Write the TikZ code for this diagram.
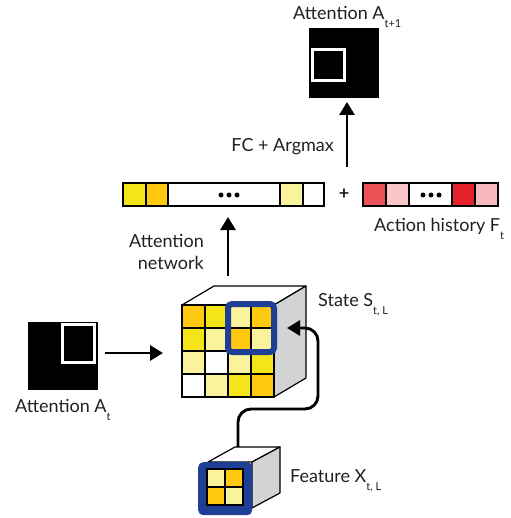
\documentclass[tikz,border=0pt]{standalone}
\usepackage{fontspec}
\setmainfont{Lato}
\usetikzlibrary{arrows.meta}
\definecolor{cy}{HTML}{F4E51B}
\definecolor{co}{HTML}{FEC90F}
\definecolor{cl}{HTML}{FAF39E}
\definecolor{cb}{HTML}{1F3F97}
\definecolor{cg}{HTML}{D1D3D4}
\definecolor{ra}{HTML}{EC5157}
\definecolor{rb}{HTML}{F9C6CA}
\definecolor{rc}{HTML}{E4202A}
\definecolor{rd}{HTML}{F8B9BD}
\definecolor{tx}{HTML}{231F20}
\newcommand\sbs[1]{\raisebox{-8pt}{\fontsize{11}{11}\selectfont #1}}
\tikzset{
  arr/.style={line width=2.9pt, -{Triangle[length=13pt,width=15pt]}},
  cellbox/.style={draw=black, line width=1.2pt},
  lbl/.style={text=tx, font=\fontsize{18}{21}\selectfont, inner sep=0pt},
  edge/.style={draw=black, line width=1.2pt, line join=round},
  dot/.style={fill=black, circle, inner sep=0pt, minimum size=5pt}
}
\begin{document}
\begin{tikzpicture}[x=1pt,y=-1pt]
\useasboundingbox (0,0) rectangle (510,518);

% ---------- top attention
\node[fill=black, minimum width=70pt, minimum height=70pt, inner sep=0pt, anchor=north west] (attT) at (309,28) {};
\draw[white, line width=3pt] (312.5,49.5) rectangle (344.5,80.5);
\node[lbl, anchor=base west] (attTl) at (293,20) {Attention A\sbs{t+1}};

% ---------- FC arrow
\coordinate (fcS) at (347,167);
\coordinate (fcE) at (347,102);
\draw[arr] (fcS) -- (fcE);
\node[lbl, anchor=base east] (fcl) at (334,152) {FC + Argmax};

% ---------- feature bar
\node[inner sep=0pt, minimum width=201pt, minimum height=23pt, anchor=north west] (bar) at (123,183) {};
\draw[cellbox, fill=cy] (123,183) rectangle (146,206);
\draw[cellbox, fill=co] (146,183) rectangle (168,206);
\draw[cellbox, fill=white] (168,183) rectangle (280,206);
\draw[cellbox, fill=cl] (280,183) rectangle (303,206);
\draw[cellbox, fill=white] (303,183) rectangle (324,206);
\node[dot] (bd1) at (221,195) {};
\node[dot] (bd2) at (229,195) {};
\node[dot] (bd3) at (237,195) {};

\node[text=tx, font=\fontsize{18}{20}\selectfont\bfseries, inner sep=0pt] (plus) at (344,194) {+};

% ---------- action history
\node[inner sep=0pt, minimum width=135pt, minimum height=23pt, anchor=north west] (hist) at (363,183) {};
\draw[cellbox, fill=ra] (363,183) rectangle (386,206);
\draw[cellbox, fill=rb] (386,183) rectangle (409,206);
\draw[cellbox, fill=white] (409,183) rectangle (452,206);
\draw[cellbox, fill=rc] (452,183) rectangle (475,206);
\draw[cellbox, fill=rd] (475,183) rectangle (498,206);
\node[dot] (hd1) at (423,195) {};
\node[dot] (hd2) at (431,195) {};
\node[dot] (hd3) at (439,195) {};
\node[lbl, anchor=base west] (histl) at (374,231) {Action history F\sbs{t}};

% ---------- attention network arrow
\coordinate (anS) at (228,276);
\coordinate (anE) at (228,217);
\draw[arr] (anS) -- (anE);
\node[lbl, anchor=base east] (anl1) at (204,247) {Attention};
\node[lbl, anchor=base east] (anl2) at (204,269) {network};

% ---------- state cube
\draw[edge, fill=white] (182,305) -- (214,286) -- (306,286) -- (274,305) -- cycle;
\draw[edge, fill=cg] (274,305) -- (306,286) -- (306,378) -- (274,397) -- cycle;
% row 1
\draw[cellbox, fill=co] (182,305) rectangle (205,328);
\draw[cellbox, fill=cy] (205,305) rectangle (228,328);
\draw[cellbox, fill=cl] (228,305) rectangle (251,328);
\draw[cellbox, fill=co] (251,305) rectangle (274,328);
% row 2
\draw[cellbox, fill=cy] (182,328) rectangle (205,351);
\draw[cellbox, fill=cl] (205,328) rectangle (228,351);
\draw[cellbox, fill=co] (228,328) rectangle (251,351);
\draw[cellbox, fill=cl] (251,328) rectangle (274,351);
% row 3
\draw[cellbox, fill=cl] (182,351) rectangle (205,374);
\draw[cellbox, fill=white] (205,351) rectangle (228,374);
\draw[cellbox, fill=cl] (228,351) rectangle (251,374);
\draw[cellbox, fill=cy] (251,351) rectangle (274,374);
% row 4
\draw[cellbox, fill=white] (182,374) rectangle (205,397);
\draw[cellbox, fill=cl] (205,374) rectangle (228,397);
\draw[cellbox, fill=cy] (228,374) rectangle (251,397);
\draw[cellbox, fill=co] (251,374) rectangle (274,397);
\draw[cb, line width=6pt, rounded corners=4pt] (228,304) rectangle (274,352);
\node[inner sep=0pt, minimum width=92pt, minimum height=92pt, anchor=north west] (state) at (182,305) {};
\node[lbl, anchor=base west] (statel) at (318,306) {State S\sbs{t, L}};

% ---------- left attention
\node[fill=black, minimum width=70pt, minimum height=68pt, inner sep=0pt, anchor=north west] (attL) at (28,322) {};
\draw[white, line width=3pt] (62.5,324.5) rectangle (94.5,362.5);
\node[lbl, anchor=base west] (attLl) at (15,412) {Attention A\sbs{t}};
\coordinate (alS) at (105,353);
\coordinate (alE) at (163,353);
\draw[arr] (alS) -- (alE);

% ---------- feature cube
\draw[edge, fill=white] (208,462) -- (235,447) -- (280,447) -- (252,462) -- cycle;
\draw[edge, fill=cg] (252,462) -- (280,447) -- (280,493) -- (252,508) -- cycle;
\node[fill=cb, rounded corners=5pt, minimum width=54pt, minimum height=53pt, inner sep=0pt, anchor=north west] (feat) at (198,462) {};
\draw[cellbox, fill=cl] (207,469) rectangle (225,487);
\draw[cellbox, fill=co] (225,469) rectangle (243,487);
\draw[cellbox, fill=co] (207,487) rectangle (225,505);
\draw[cellbox, fill=cl] (225,487) rectangle (243,505);
\node[lbl, anchor=base west] (featl) at (290,482) {Feature X\sbs{t, L}};

% ---------- curved connector
\coordinate (fcTop) at (238,447);
\coordinate (stSide) at (287,328);
\draw[line width=2.9pt, rounded corners=13pt, -{Triangle[length=13pt,width=15pt]}]
  (fcTop) -- (238,409) -- (318,409) -- (318,328) -- (stSide);
\end{tikzpicture}
\end{document}
